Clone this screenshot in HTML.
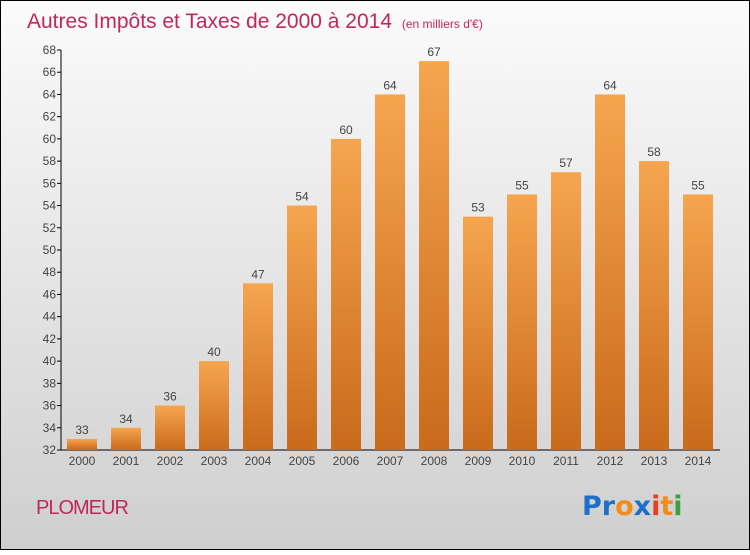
<!DOCTYPE html>
<html><head><meta charset="utf-8"><style>
html,body{margin:0;padding:0}
body{width:750px;height:550px;overflow:hidden;font-family:"Liberation Sans",sans-serif}
</style></head><body>
<svg width="750" height="550" xmlns="http://www.w3.org/2000/svg">
<defs>
<linearGradient id="bg" x1="0" y1="0" x2="0" y2="1"><stop offset="0" stop-color="#fbfbfb"/><stop offset="1" stop-color="#cfcfcf"/></linearGradient>
<linearGradient id="bar" x1="0" y1="0" x2="0" y2="1"><stop offset="0" stop-color="#f6a54f"/><stop offset="1" stop-color="#c96a1c"/></linearGradient>
</defs>
<rect x="0.5" y="0.5" width="749" height="549" fill="url(#bg)" stroke="#000"/>
<text x="27" y="28" font-size="21" fill="#c0285a">Autres Impôts et Taxes de 2000 à 2014 <tspan font-size="12" dx="4">(en milliers d'€)</tspan></text>
<g id="axes"></g>
<g id="bars"></g>
<text x="36" y="514" font-size="20" fill="#c0285a" letter-spacing="-1">PLOMEUR</text>
<text x="582" y="515" font-size="27" font-family="'DejaVu Sans',sans-serif" font-weight="bold"><tspan fill="#1e6fc8">Pr</tspan><tspan fill="#f28c1c">o</tspan><tspan fill="#1e6fc8">x</tspan><tspan fill="#e8401c">i</tspan><tspan fill="#f28c1c">t</tspan><tspan fill="#3aa040">i</tspan></text>
</svg>
<script>
const years=["2000","2001","2002","2003","2004","2005","2006","2007","2008","2009","2010","2011","2012","2013","2014"];
const values=[33,34,36,40,47,54,60,64,67,53,55,57,64,58,55];
const yTicks=[32,34,36,38,40,42,44,46,48,50,52,54,56,58,60,62,64,66,68];
const NS="http://www.w3.org/2000/svg";
const yMin=32,yMax=68,yTop=50,yBot=450,axisX=61,x0=82,step=44,bw=30;
const yS=v=>yBot-(v-yMin)/(yMax-yMin)*(yBot-yTop);
const xS=i=>x0+i*step;
function mk(t,a,p){const e=document.createElementNS(NS,t);for(const k in a)e.setAttribute(k,a[k]);p.appendChild(e);return e;}
const ax=document.getElementById('axes'),bg=document.getElementById('bars');
const yl=mk('line',{x1:axisX,y1:yTop,x2:axisX,y2:yBot,stroke:'#000'},ax);


const xl=mk('line',{x1:axisX,y1:yBot,x2:720,y2:yBot,stroke:'#000'},ax);


yTicks.forEach(t=>{
 mk('line',{x1:axisX-4,y1:yS(t),x2:axisX,y2:yS(t),stroke:'#000'},ax);
 const tx=mk('text',{x:axisX-5,y:yS(t)+4,'font-size':12,fill:'#444','text-anchor':'end'},ax);
 tx.textContent=t;
 
 
});
years.forEach((yr,i)=>{
 const r=mk('rect',{x:xS(i)-bw/2,y:yS(values[i]),width:bw,height:yBot-yS(values[i]),fill:'url(#bar)'},bg);
 
 
 const v=mk('text',{x:xS(i),y:yS(values[i])-5,'font-size':12,fill:'#444','text-anchor':'middle'},bg);
 v.textContent=values[i];
 
 
 const l=mk('text',{x:xS(i),y:yBot+15,'font-size':12,fill:'#444','text-anchor':'middle'},bg);
 l.textContent=yr;
 
 
});
</script>
</body></html>
